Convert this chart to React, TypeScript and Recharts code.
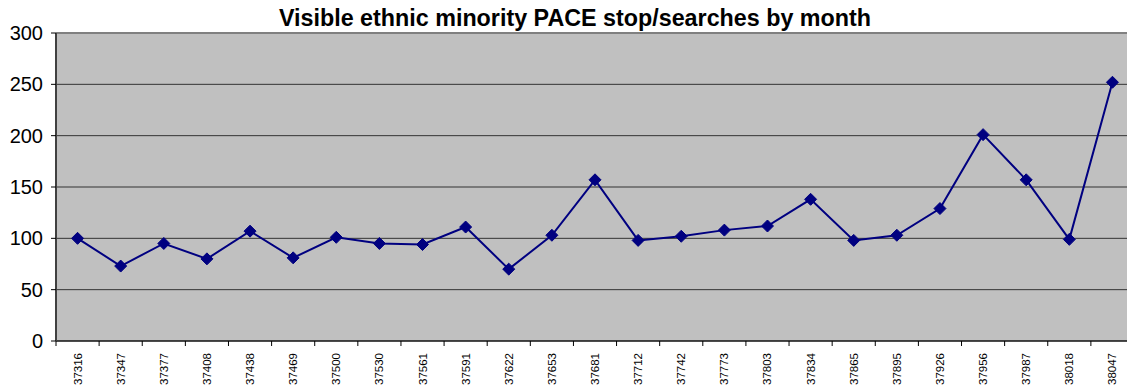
import React from "react";
import {
  CartesianGrid,
  Line,
  LineChart,
  ReferenceLine,
  XAxis,
  YAxis,
} from "recharts";

const months = [
  "37316", "37347", "37377", "37408", "37438", "37469", "37500", "37530",
  "37561", "37591", "37622", "37653", "37681", "37712", "37742", "37773",
  "37803", "37834", "37865", "37895", "37926", "37956", "37987", "38018",
  "38047",
];
const searches = [
  100, 73, 95, 80, 107, 81, 101, 95, 94, 111, 70, 103, 157, 98, 102, 108,
  112, 138, 98, 103, 129, 201, 157, 99, 252,
];
const yTicks = [0, 50, 100, 150, 200, 250, 300];

const data = months.map((m, i) => ({ month: m, value: searches[i] }));

const font = "Arial, 'Liberation Sans', sans-serif";

// chart geometry
const chartW = 1134;
const leftSpace = 56;
const band = (chartW - leftSpace) / months.length;

const Diamond = (props: any) => {
  const { cx, cy } = props;
  if (cx == null || cy == null) return null;
  const r = 6;
  return (
    <polygon
      points={`${cx},${cy - r} ${cx + r},${cy} ${cx},${cy + r} ${cx - r},${cy}`}
      fill="#000080"
      stroke="#000080"
    />
  );
};

// label plus the tick marks that sit between categories
const MonthTick = (props: any) => {
  const { x, y, payload, index } = props;
  const axisY = y - 6;
  const left = x - band / 2;
  const right = x + band / 2;
  return (
    <g>
      <line x1={left} x2={left} y1={axisY} y2={axisY + 5} stroke="#000" />
      {index === months.length - 1 && (
        <line x1={right} x2={right} y1={axisY} y2={axisY + 5} stroke="#000" />
      )}
      <text
        transform={`translate(${x + 4},${y + 6}) rotate(-90)`}
        textAnchor="end"
        fontSize={11.5}
        fontFamily={font}
        fill="#000"
      >
        {payload.value}
      </text>
    </g>
  );
};

export default function App() {
  return (
    <div
      style={{
        position: "absolute",
        left: 0,
        top: 0,
        width: 1127,
        height: 387,
        overflow: "hidden",
        background: "#fff",
      }}
    >
      <div
        style={{
          position: "absolute",
          left: 0,
          width: 1150,
          top: 4,
          textAlign: "center",
          fontFamily: font,
          fontWeight: "bold",
          fontSize: 23.3,
          lineHeight: "28px",
          color: "#000",
        }}
      >
        Visible ethnic minority PACE stop/searches by month
      </div>
      <LineChart
        width={chartW}
        height={387}
        data={data}
        margin={{ top: 33, right: 0, left: 6, bottom: 0 }}
      >
        <CartesianGrid
          vertical={false}
          stroke="#333"
          fill="#C0C0C0"
          fillOpacity={1}
        />
        <XAxis
          dataKey="month"
          interval={0}
          height={46}
          padding={{ left: band / 2, right: band / 2 }}
          tick={<MonthTick />}
          tickLine={false}
          tickSize={6}
          tickMargin={0}
          axisLine={{ stroke: "#000" }}
        />
        <YAxis
          domain={[0, 300]}
          ticks={yTicks}
          width={50}
          tickSize={5}
          tickMargin={8}
          axisLine={{ stroke: "#404040", strokeWidth: 2 }}
          tickLine={{ stroke: "#000" }}
          tick={{ fontSize: 20, fontFamily: font, fill: "#000" }}
        />
        <ReferenceLine y={300} stroke="#808080" strokeWidth={2} />
        <Line
          type="linear"
          dataKey="value"
          stroke="#000080"
          strokeWidth={2}
          dot={<Diamond />}
          activeDot={false}
          isAnimationActive={false}
        />
      </LineChart>
    </div>
  );
}
